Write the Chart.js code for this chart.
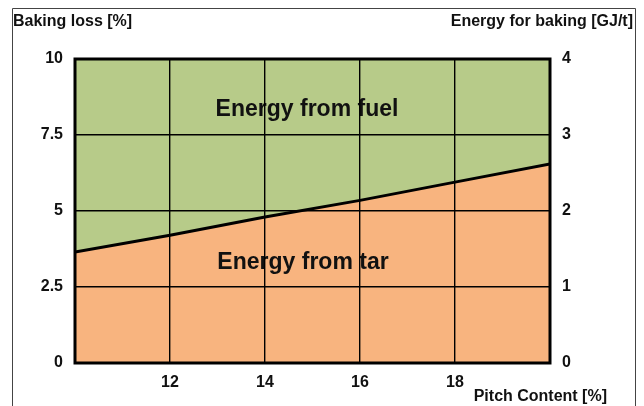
<!DOCTYPE html>
<html>
<head>
<meta charset="utf-8">
<script src="https://cdn.jsdelivr.net/npm/chart.js@4"></script>
<style>
  html, body { margin: 0; padding: 0; background: #fff; }
  #chart { display: block; }
</style>
</head>
<body>
<canvas id="chart" width="644" height="406"></canvas>
<script>
// pitch content [%]
const pitch = [10, 12, 14, 16, 18, 20];
// baking loss boundary between tar energy and fuel energy [%]
const tarEnergy = [3.65, 4.2, 4.8, 5.35, 5.95, 6.55];
// top of the fuel area
const totalEnergy = [10, 10, 10, 10, 10, 10];

const xTicks = [12, 14, 16, 18];
const leftTicks = [0, 2.5, 5, 7.5, 10];
const rightTicks = [0, 1, 2, 3, 4];

const FONT = "'Liberation Sans', Arial, sans-serif";
const tickFont = { family: FONT, size: 16, weight: "bold" };

const pts = arr => pitch.map((p, i) => ({ x: p, y: arr[i] }));

// frame, titles, region labels
const decor = {
  id: "decor",
  afterDatasetsDraw(chart) {
    const { ctx } = chart;
    ctx.save();
    ctx.fillStyle = "#111";
    ctx.font = "bold 23px " + FONT;
    ctx.textAlign = "center";
    ctx.textBaseline = "middle";
    ctx.fillText("Energy from fuel", 307, 110);
    ctx.fillText("Energy from tar", 303, 263);
    ctx.restore();
  },
  afterDraw(chart) {
    const { ctx, chartArea: a } = chart;
    ctx.save();
    // outer frame
    ctx.strokeStyle = "#444";
    ctx.lineWidth = 1;
    ctx.beginPath();
    ctx.moveTo(12.5, 406);
    ctx.lineTo(12.5, 8.5);
    ctx.lineTo(635.5, 8.5);
    ctx.lineTo(635.5, 406);
    ctx.stroke();
    // plot border
    ctx.strokeStyle = "#000";
    ctx.lineWidth = 3;
    ctx.strokeRect(a.left, a.top, a.right - a.left, a.bottom - a.top);
    // axis titles
    ctx.fillStyle = "#111";
    ctx.font = "bold 16px " + FONT;
    ctx.textBaseline = "middle";
    ctx.textAlign = "left";
    ctx.fillText("Baking loss [%]", 13, 22);
    ctx.textAlign = "right";
    ctx.fillText("Energy for baking [GJ/t]", 633, 22);
    ctx.fillText("Pitch Content [%]", 607, 397);
    ctx.restore();
  }
};

new Chart(document.getElementById("chart"), {
  type: "line",
  data: {
    datasets: [
      {
        label: "Energy from tar",
        data: pts(tarEnergy),
        borderColor: "#000",
        borderWidth: 3,
        backgroundColor: "#f8b47f",
        fill: "origin",
        pointRadius: 0,
        tension: 0
      },
      {
        label: "Energy from fuel",
        data: pts(totalEnergy),
        borderWidth: 0,
        borderColor: "rgba(0,0,0,0)",
        backgroundColor: "#b7cb89",
        fill: "-1",
        pointRadius: 0,
        tension: 0
      }
    ]
  },
  options: {
    responsive: false,
    animation: false,
    layout: { padding: { top: 59, left: 0, right: 0, bottom: 0 } },
    plugins: {
      legend: { display: false },
      tooltip: { enabled: false }
    },
    scales: {
      x: {
        type: "linear",
        min: 10,
        max: 20,
        afterBuildTicks: s => { s.ticks = xTicks.map(v => ({ value: v })); },
        afterFit: s => { s.height = 43; },
        ticks: { padding: 10, color: "#111", font: tickFont },
        grid: { color: "#000", lineWidth: 1.4, drawTicks: false, z: 1 },
        border: { display: false }
      },
      y: {
        position: "left",
        min: 0,
        max: 10,
        afterBuildTicks: s => { s.ticks = leftTicks.map(v => ({ value: v })); },
        afterFit: s => { s.width = 75; },
        ticks: { padding: 12, color: "#111", font: tickFont },
        grid: { color: "#000", lineWidth: 1.4, drawTicks: false, z: 1 },
        border: { display: false }
      },
      y2: {
        position: "right",
        min: 0,
        max: 4,
        afterBuildTicks: s => { s.ticks = rightTicks.map(v => ({ value: v })); },
        afterFit: s => { s.width = 94; },
        ticks: { padding: 12, color: "#111", font: tickFont },
        grid: { display: false, drawTicks: false },
        border: { display: false }
      }
    }
  },
  plugins: [decor]
});
</script>
</body>
</html>
